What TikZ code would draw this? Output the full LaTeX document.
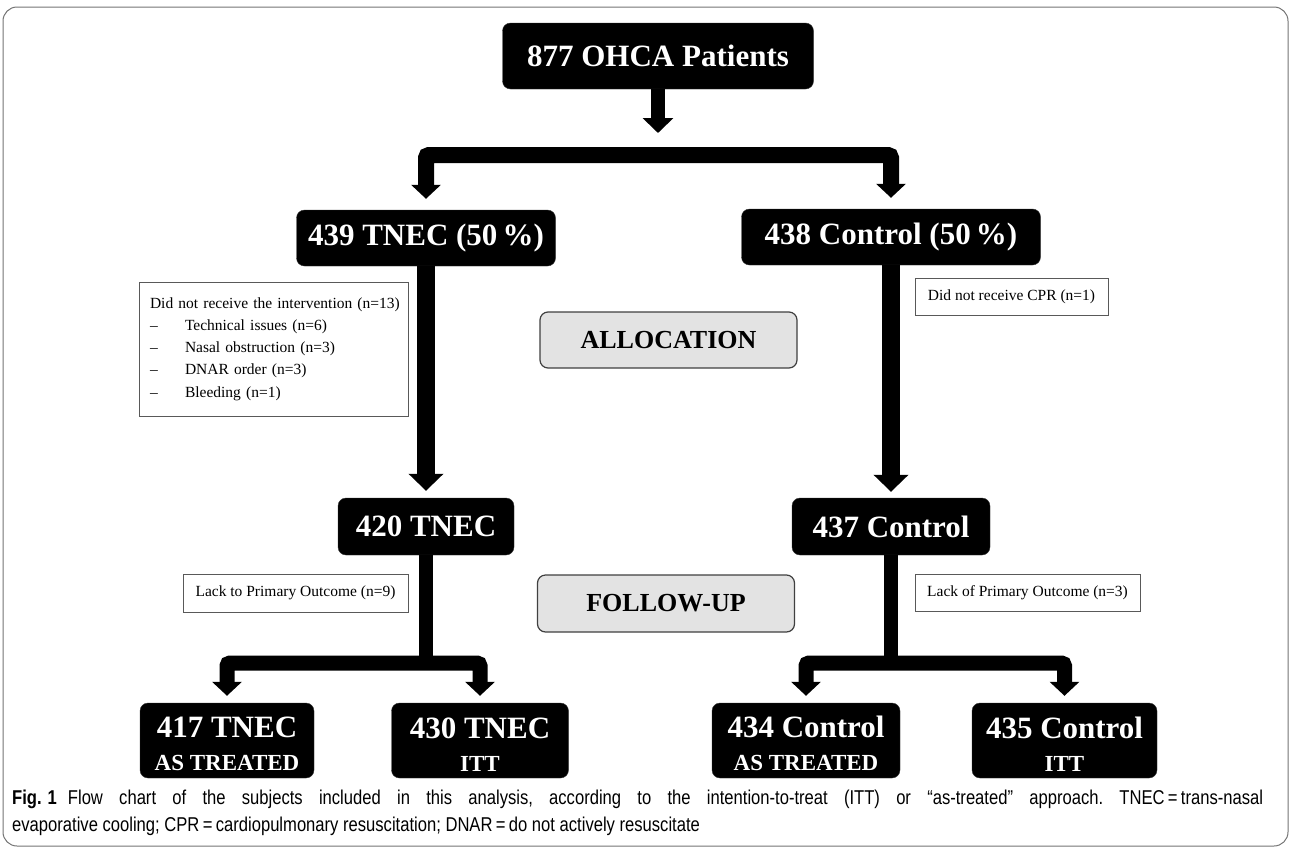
\documentclass[tikz,border=0pt]{standalone}
\usepackage{fontspec}
\setmainfont{Liberation Serif}
\newfontfamily\capfont[FakeStretch=0.83]{Liberation Sans}
\usetikzlibrary{arrows.meta}
\begin{document}
\begin{tikzpicture}[x=1pt,y=-1pt,
  darkbox/.style={fill=black, draw=black!80, rounded corners=8pt, text=white,
    font=\fontsize{31}{31}\selectfont\bfseries, inner sep=0pt, align=center},
  twobox/.style={darkbox, minimum height=75pt},
  phasebox/.style={fill=black!11, draw=black!75, line width=1.2pt, rounded corners=8pt,
    font=\fontsize{26}{26}\selectfont\bfseries, inner sep=0pt, minimum width=257pt, minimum height=56pt},
  notebox/.style={draw=black!65, line width=0.9pt, fill=white,
    font=\fontsize{15.5}{22.25}\selectfont, inner sep=0pt},
  toparrow/.style={line width=14pt, -{Triangle[width=30pt,length=15pt]}},
  splitarrow/.style={line width=16pt, rounded corners=3pt, {Triangle[width=29pt,length=14pt]}-{Triangle[width=29pt,length=14pt]}},
  midarrow/.style={line width=18pt, -{Triangle[width=34pt,length=17pt]}},
  stem/.style={line width=14pt},
  lowarrow/.style={line width=15pt, rounded corners=3pt, {Triangle[width=29pt,length=14pt]}-{Triangle[width=29pt,length=14pt]}}
]
\useasboundingbox (0,0) rectangle (1291,849);
\draw[black!55, line width=1pt, rounded corners=14pt] (3,7) rectangle (1288,846);

% nodes
\node[darkbox, minimum width=311pt, minimum height=66pt] (top) at (658,56) {877 OHCA Patients};
\node[darkbox, minimum width=259pt, minimum height=56pt] (tnec439) at (426,238) {439 TNEC (50\,\%)};
\node[darkbox, minimum width=299pt, minimum height=56pt] (ctrl438) at (891,237) {438 Control (50\,\%)};
\node[phasebox] (alloc) at (668.5,340) {ALLOCATION};
\node[notebox, minimum width=269pt, minimum height=134pt, text width=247pt, align=left] (side1) at (273.5,349)
  {\mbox{Did not receive the intervention (n=13)}\\
   \makebox[35pt][l]{--}Technical issues (n=6)\\
   \makebox[35pt][l]{--}Nasal obstruction (n=3)\\
   \makebox[35pt][l]{--}DNAR order (n=3)\\
   \makebox[35pt][l]{--}Bleeding (n=1)};
\node[notebox, minimum width=193pt, minimum height=37pt] (side2) at (1011.5,296.5) {Did not receive CPR (n=1)};
\node[darkbox, minimum width=176pt, minimum height=57pt] (tnec420) at (426,526.5) {420 TNEC};
\node[darkbox, minimum width=198pt, minimum height=57pt] (ctrl437) at (891,526.5) {437 Control};
\node[notebox, minimum width=225pt, minimum height=38pt] (lack1) at (295.5,593) {Lack to Primary Outcome (n=9)};
\node[phasebox, minimum height=57pt] (follow) at (666,603.5) {FOLLOW-UP};
\node[notebox, minimum width=225pt, minimum height=37pt] (lack2) at (1027.5,593) {Lack of Primary Outcome (n=3)};

\node[twobox, minimum width=174pt] (b1) at (227,740.5) {\rule{0pt}{28pt}417 TNEC\\[2pt]{\fontsize{23}{23}\selectfont AS TREATED}};
\node[twobox, minimum width=177pt] (b2) at (480,740.5) {\rule{0pt}{28pt}430 TNEC\\[2pt]{\fontsize{23}{23}\selectfont ITT}};
\node[twobox, minimum width=188pt] (b3) at (806,740.5) {\rule{0pt}{28pt}434 Control\\[2pt]{\fontsize{23}{23}\selectfont AS TREATED}};
\node[twobox, minimum width=185pt] (b4) at (1064.5,740.5) {\rule{0pt}{28pt}435 Control\\[2pt]{\fontsize{23}{23}\selectfont ITT}};

\coordinate (bar) at (658,155);
\coordinate (barL) at (426,663);
\coordinate (barR) at (893,663);

% connectors
\draw[toparrow, shorten >=22pt] (top.south) -- (top.south |- bar);
\draw[splitarrow, shorten <=11pt, shorten >=11pt] (tnec439.north) -- (tnec439.north |- bar) -- (ctrl438.north |- bar) -- (ctrl438.north);
\draw[midarrow, shorten >=7pt] (tnec439.south) -- (tnec420.north);
\draw[midarrow, shorten >=6pt] (ctrl438.south) -- (ctrl437.north);
\draw[stem] (tnec420.south) -- (tnec420.south |- barL);
\draw[lowarrow, shorten <=7pt, shorten >=7pt] (b1.north) -- (b1.north |- barL) -- (b2.north |- barL) -- (b2.north);
\draw[stem] (ctrl437.south) -- (ctrl437.south |- barR);
\draw[lowarrow, shorten <=7pt, shorten >=7pt] (b3.north) -- (b3.north |- barR) -- (b4.north |- barR) -- (b4.north);

% caption
\node[anchor=north west, inner sep=0pt, align=left, font=\capfont\fontsize{20}{27}\selectfont\frenchspacing] (cap) at (12,790)
  {\makebox[1251pt][s]{\textbf{Fig.\hspace{6pt}1}\hspace{11pt}Flow chart of the subjects included in this analysis, according to the intention-to-treat (ITT) or \textquotedblleft as-treated\textquotedblright\ approach. TNEC\,=\,trans-nasal}\\
   evaporative cooling; CPR\,=\,cardiopulmonary resuscitation; DNAR\,=\,do not actively resuscitate};
\end{tikzpicture}
\end{document}
